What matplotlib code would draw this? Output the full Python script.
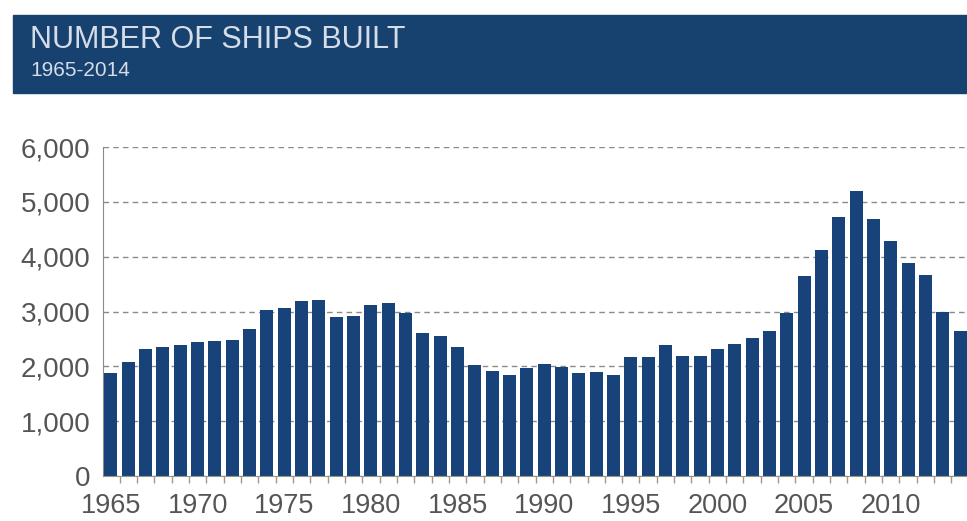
import matplotlib.pyplot as plt
import matplotlib.patches as patches
import numpy as np

years = list(range(1965, 2015))
ships = [1870, 2080, 2310, 2345, 2390, 2435, 2455, 2480, 2675, 3020,
         3065, 3200, 3215, 2900, 2910, 3120, 3150, 2970, 2610, 2560,
         2355, 2025, 1910, 1845, 1970, 2045, 1990, 1880, 1905, 1845,
         2170, 2175, 2390, 2190, 2190, 2320, 2410, 2520, 2640, 2980,
         3640, 4130, 4730, 5190, 4680, 4280, 3890, 3670, 3000, 2650]
label_years = [1965, 1970, 1975, 1980, 1985, 1990, 1995, 2000, 2005, 2010]
y_ticks = [0, 1000, 2000, 3000, 4000, 5000, 6000]

W, H = 967, 521
plt.rcParams['font.family'] = ['Liberation Sans', 'DejaVu Sans']
fig = plt.figure(figsize=(W / 100, H / 100), dpi=100)

# header banner
fig.patches.append(patches.Rectangle((13 / W, (H - 93) / H), (W - 13) / W, 78 / H,
                                     transform=fig.transFigure, color='#17416f', zorder=0))
fig.text(30 / W, (H - 48) / H, 'NUMBER OF SHIPS BUILT', color='#d4dde8',
         fontsize=22, va='baseline', ha='left')
fig.text(30 / W, (H - 76) / H, '1965-2014', color='#d4dde8',
         fontsize=15, va='baseline', ha='left')

ax = fig.add_axes([103 / W, (H - 476) / H, (W - 103) / W, (476 - 147) / H])
ax.bar(years, ships, width=0.75, color='#17437a', zorder=3)

ax.set_xlim(1964.54, 2014.4)
ax.set_ylim(0, 6000)
ax.set_yticks(y_ticks)
ax.set_yticklabels(['{:,}'.format(v) for v in y_ticks])
ax.set_xticks(label_years)
ax.set_xticklabels([str(y) for y in label_years])
ax.set_xticks(np.arange(1965.5, 2014, 1), minor=True)
ax.tick_params(axis='x', which='major', length=0, pad=12, labelsize=19.5, labelcolor='#555555')
ax.tick_params(axis='x', which='minor', length=5, color='#a09a90', width=1)
ax.tick_params(axis='y', length=0, pad=9, labelsize=20, labelcolor='#555555')

ax.yaxis.grid(True, linestyle=(0, (4, 3)), color='#8a8a8a', linewidth=1, zorder=0)
for s in ['top', 'right']:
    ax.spines[s].set_visible(False)
ax.spines['left'].set_color('#8a8a8a')
ax.spines['bottom'].set_color('#9a948a')
ax.spines['bottom'].set_zorder(4)

fig.savefig('out.png', dpi=100)
